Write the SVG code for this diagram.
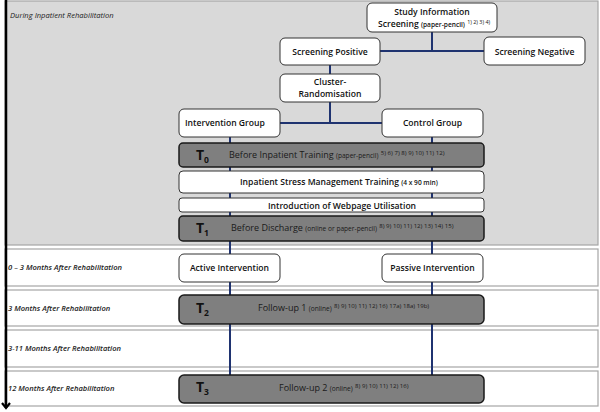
<svg xmlns="http://www.w3.org/2000/svg" width="600" height="412" viewBox="0 0 600 412">
<defs>
<marker id="arr" viewBox="0 0 10 10" refX="8" refY="5" markerWidth="10" markerHeight="10" markerUnits="userSpaceOnUse" orient="auto">
<polyline points="3,1 8,5 3,9" fill="none" stroke="#000" stroke-width="2.2"/>
</marker>
<style>
.band{stroke:#a6a6a6;stroke-width:1.2}
.lbl{font-family:"Open Sans","DejaVu Sans",sans-serif;font-style:italic;font-size:7.6px;fill:#222}
.lblb{font-weight:600}
.wb{fill:#fff;stroke:#333;stroke-width:1}
.db{fill:#7f7f7f;stroke:#1a1a1a;stroke-width:1.5}
.t{font-family:"Open Sans","DejaVu Sans",sans-serif;font-size:8.6px;font-weight:600;fill:#111}
.ts{font-size:6.6px}
.sup{font-size:5.4px;font-weight:400}
.dsup{font-size:6.1px;font-weight:400}
.big{font-family:"Open Sans","DejaVu Sans",sans-serif;font-size:14px;font-weight:700;fill:#111}
.sub{font-size:8.5px}
.dt{font-family:"Open Sans","DejaVu Sans",sans-serif;font-size:9px;font-weight:400;fill:#1a1a1a}
.c{fill:none;stroke:#1f3370;stroke-width:2}
</style>
</defs>

<g id="bands">
<rect class="band" x="5" y="1" width="593" height="244" fill="#d9d9d9"/>
<rect class="band" x="5" y="249" width="593" height="37" fill="#fff"/>
<rect class="band" x="5" y="290" width="593" height="36" fill="#fff"/>
<rect class="band" x="5" y="330" width="593" height="37" fill="#fff"/>
<rect class="band" x="5" y="371" width="593" height="35" fill="#fff"/>
<text class="lbl" x="10" y="18">During Inpatient Rehabilitation</text>
<text class="lbl lblb" x="8" y="270">0 – 3 Months After Rehabilitation</text>
<text class="lbl lblb" x="8" y="311">3 Months After Rehabilitation</text>
<text class="lbl lblb" x="8" y="351">3-11 Months After Rehabilitation</text>
<text class="lbl lblb" x="8" y="391">12 Months After Rehabilitation</text>
</g>

<g id="timeline">
<line x1="6" y1="0" x2="6" y2="408" stroke="#000" stroke-width="2.5" marker-end="url(#arr)"/>
</g>

<g id="connectors">
<polyline class="c" points="432,32 432,51"/>
<line class="c" x1="380" y1="51" x2="484" y2="51"/>
<line class="c" x1="330" y1="65" x2="330" y2="74"/>
<line class="c" x1="330" y1="102" x2="330" y2="123"/>
<line class="c" x1="280" y1="123" x2="382" y2="123"/>
<line class="c" x1="230" y1="137" x2="230" y2="375"/>
<line class="c" x1="432" y1="137" x2="432" y2="375"/>
</g>

<g id="study">
<rect class="wb" x="367" y="3" width="130" height="29" rx="5"/>
<text class="t" x="432" y="15" text-anchor="middle">Study Information</text>
<text class="t" x="378" y="27">Screening <tspan class="ts">(paper-pencil)</tspan> <tspan class="sup" dy="-3">1) 2) 3) 4)</tspan></text>
</g>

<g id="screen-pos">
<rect class="wb" x="280" y="38" width="100" height="27" rx="5"/>
<text class="t" x="330" y="55" text-anchor="middle">Screening Positive</text>
</g>

<g id="screen-neg">
<rect class="wb" x="484" y="37" width="101" height="28" rx="5"/>
<text class="t" x="534.5" y="55" text-anchor="middle">Screening Negative</text>
</g>

<g id="cluster">
<rect class="wb" x="280" y="74" width="100" height="28" rx="5"/>
<text class="t" x="330" y="85" text-anchor="middle">Cluster-</text>
<text class="t" x="330" y="97" text-anchor="middle">Randomisation</text>
</g>

<g id="intervention">
<rect class="wb" x="179" y="109" width="101" height="28" rx="5"/>
<text class="t" x="185" y="126">Intervention Group</text>
</g>

<g id="control">
<rect class="wb" x="382" y="109" width="101" height="28" rx="5"/>
<text class="t" x="432.5" y="126" text-anchor="middle">Control Group</text>
</g>

<g id="t0">
<rect class="db" x="179" y="143" width="305" height="24" rx="4"/>
<text class="big" x="196" y="160">T<tspan class="sub" dy="3">0</tspan></text>
<text class="dt" x="229" y="158">Before Inpatient Training <tspan class="ts">(paper-pencil)</tspan> <tspan class="dsup" dy="-3">5) 6) 7) 8) 9) 10) 11) 12)</tspan></text>
</g>

<g id="training">
<rect class="wb" x="179" y="171" width="305" height="22" rx="4"/>
<text class="t" x="240" y="185">Inpatient Stress Management Training <tspan class="ts">(4 x 90 min)</tspan></text>
</g>

<g id="webpage">
<rect class="wb" x="179" y="198" width="305" height="14" rx="3"/>
<text class="t" x="342" y="208.5" text-anchor="middle">Introduction of Webpage Utilisation</text>
</g>

<g id="t1">
<rect class="db" x="179" y="216" width="305" height="25" rx="4"/>
<text class="big" x="196" y="233">T<tspan class="sub" dy="3">1</tspan></text>
<text class="dt" x="231" y="231">Before Discharge <tspan class="ts">(online or paper-pencil)</tspan> <tspan class="dsup" dy="-3">8) 9) 10) 11) 12) 13) 14) 15)</tspan></text>
</g>

<g id="active">
<rect class="wb" x="179" y="254" width="101" height="28" rx="5"/>
<text class="t" x="229.5" y="271" text-anchor="middle">Active Intervention</text>
</g>

<g id="passive">
<rect class="wb" x="382" y="254" width="101" height="28" rx="5"/>
<text class="t" x="432.5" y="271" text-anchor="middle">Passive Intervention</text>
</g>

<g id="t2">
<rect class="db" x="179" y="295" width="305" height="29" rx="5"/>
<text class="big" x="196" y="313">T<tspan class="sub" dy="3">2</tspan></text>
<text class="dt" x="258" y="311">Follow-up 1 <tspan class="ts">(online)</tspan> <tspan class="dsup" dy="-3">8) 9) 10) 11) 12) 16) 17a) 18a) 19b)</tspan></text>
</g>

<g id="t3">
<rect class="db" x="179" y="375" width="305" height="28" rx="5"/>
<text class="big" x="196" y="392">T<tspan class="sub" dy="3">3</tspan></text>
<text class="dt" x="279" y="391">Follow-up 2 <tspan class="ts">(online)</tspan> <tspan class="dsup" dy="-3">8) 9) 10) 11) 12) 16)</tspan></text>
</g>
</svg>
